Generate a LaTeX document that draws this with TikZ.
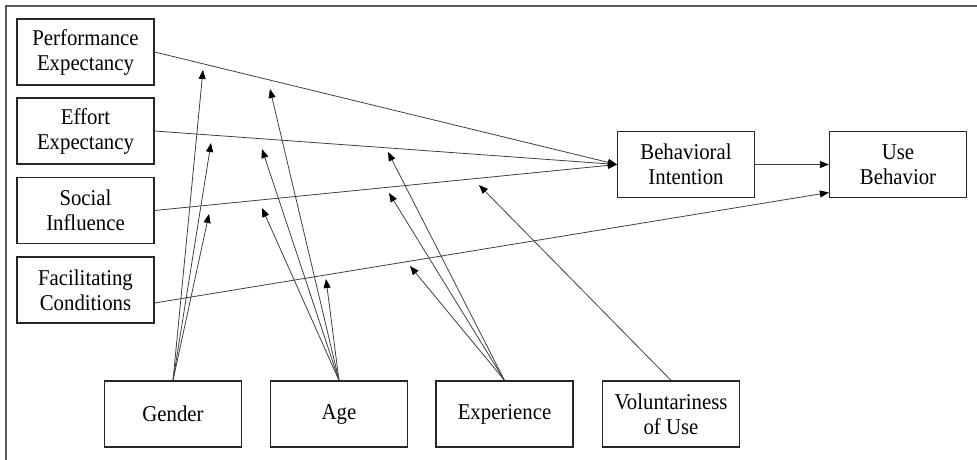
\documentclass[tikz,border=0pt]{standalone}
\usepackage{fontspec}
\setmainfont{Liberation Serif}[FakeStretch=0.92]
\usetikzlibrary{arrows.meta}
\begin{document}
\begin{tikzpicture}[x=1pt,y=-1pt,
  box/.style={draw=black!85, line width=1.2pt, minimum width=137pt, minimum height=66pt,
    inner sep=0pt, align=center, font=\fontsize{22.6}{25}\selectfont, text=black},
  conn/.style={draw=black!75, line width=0.8pt, -{Triangle[length=9pt,width=7pt,fill=black,color=black]}},
  frameline/.style={draw=black!65, line width=2pt}]
\useasboundingbox (0,0) rectangle (977,460);
\draw[frameline] (6,460) -- (6,6) -- (977,6);
% constructs
\node[box] (pe) at (85.5,52) {Performance\\Expectancy};
\node[box] (ee) at (85.5,131) {Effort\\Expectancy};
\node[box] (si) at (85.5,210.5) {Social\\Influence};
\node[box] (fc) at (85.5,290) {Facilitating\\Conditions};
\node[box] (bi) at (686,164.5) {Behavioral\\Intention};
\node[box] (ub) at (898,164.5) {Use\\Behavior};
% moderators
\node[box] (gen) at (173,414) {Gender};
\node[box] (age) at (339,414) {Age};
\node[box] (exp) at (504.5,414) {Experience};
\node[box] (vol) at (671,414) {Voluntariness\\of Use};
% main paths
\draw[conn] (pe.east) -- (bi.west);
\draw[conn] (ee.east) -- (bi.west);
\draw[conn] (si.east) -- (bi.west);
\draw[conn] ([yshift=-13pt]fc.east) -- ([yshift=-28pt]ub.west);
\draw[conn] (bi.east) -- (ub.west);
% moderation targets
\coordinate (gpe) at (203,70);
\coordinate (gee) at (211,143);
\coordinate (gsi) at (209,214);
\coordinate (ape) at (270,89);
\coordinate (aee) at (262,149);
\coordinate (asi) at (262,208);
\coordinate (afc) at (326,279);
\coordinate (xee) at (388,152);
\coordinate (xsi) at (389,193);
\coordinate (xfc) at (410,266);
\coordinate (vsi) at (479,185);
\foreach \t in {gpe,gee,gsi} \draw[conn] (gen.north) -- (\t);
\foreach \t in {ape,aee,asi,afc} \draw[conn] (age.north) -- (\t);
\foreach \t in {xee,xsi,xfc} \draw[conn] (exp.north) -- (\t);
\draw[conn] (vol.north) -- (vsi);
\end{tikzpicture}
\end{document}
